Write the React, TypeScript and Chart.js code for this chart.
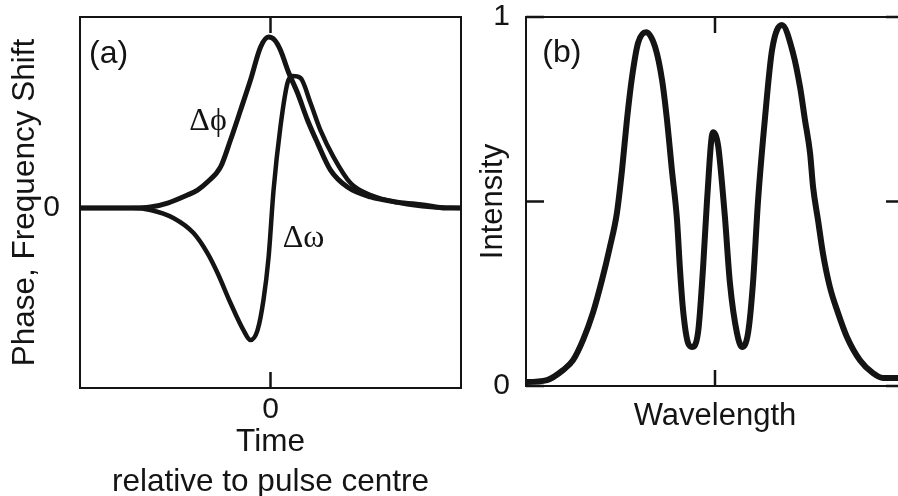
import React, { useEffect, useRef } from "react";
import { Chart, registerables } from "chart.js";

Chart.register(...registerables);

// ---- Panel (a): phase and frequency shift vs time ----
const phiTime = [-1, -0.735, -0.63, -0.54, -0.436, -0.383, -0.331, -0.262, -0.21, -0.157, -0.105, -0.052, -0.01, 0.021, 0.052, 0.094, 0.142, 0.194, 0.247, 0.315, 0.404, 0.525, 0.667, 0.803, 0.92, 1];
const phiShift = [0, 0, 0.005, 0.026, 0.068, 0.094, 0.136, 0.215, 0.356, 0.513, 0.67, 0.843, 0.895, 0.88, 0.827, 0.712, 0.602, 0.461, 0.34, 0.199, 0.11, 0.058, 0.031, 0.016, 0, 0];

const omegaTime = [-1, -0.72, -0.63, -0.51, -0.404, -0.331, -0.278, -0.21, -0.142, -0.105, -0.068, -0.037, -0.01, 0.016, 0.052, 0.089, 0.115, 0.157, 0.21, 0.262, 0.331, 0.42, 0.525, 0.682, 0.84, 1];
const omegaShift = [0, 0, -0.01, -0.052, -0.131, -0.236, -0.34, -0.497, -0.639, -0.691, -0.639, -0.482, -0.257, 0.094, 0.424, 0.654, 0.691, 0.681, 0.55, 0.408, 0.267, 0.131, 0.068, 0.026, 0.005, 0];

const timeTicks = [0];
const shiftTicks = [0];

// ---- Panel (b): spectrum ----
const wavelength = [-1, -0.995, -0.889, -0.804, -0.751, -0.698, -0.646, -0.598, -0.556, -0.519, -0.492, -0.466, -0.439, -0.407, -0.365, -0.317, -0.28, -0.254, -0.228, -0.201, -0.185, -0.169, -0.143, -0.122, -0.09, -0.063, -0.042, -0.011, 0.016, 0.037, 0.053, 0.079, 0.116, 0.143, 0.175, 0.201, 0.228, 0.265, 0.302, 0.354, 0.413, 0.45, 0.476, 0.503, 0.519, 0.545, 0.571, 0.608, 0.651, 0.698, 0.767, 0.836, 0.889, 0.968, 1];
const intensity = [0.011, 0.011, 0.016, 0.043, 0.07, 0.125, 0.198, 0.287, 0.377, 0.469, 0.585, 0.721, 0.837, 0.93, 0.959, 0.919, 0.829, 0.721, 0.585, 0.45, 0.314, 0.206, 0.117, 0.106, 0.144, 0.322, 0.504, 0.688, 0.653, 0.55, 0.455, 0.279, 0.144, 0.106, 0.144, 0.279, 0.504, 0.729, 0.911, 0.978, 0.902, 0.81, 0.721, 0.631, 0.539, 0.45, 0.36, 0.268, 0.198, 0.133, 0.07, 0.035, 0.022, 0.022, 0.022];

const wavelengthTicks = [0];
const intensityTicks = [0, 0.5, 1];
const intensityTickLabels = ["0", "", "1"];

const INK = "#141414";
const SANS = '"Liberation Sans", Arial, Helvetica, sans-serif';
const SERIF = '"Liberation Serif", "DejaVu Serif", "Times New Roman", serif';

type Note = { text: string; x: number; y: number; font: string };

function framePlugin(id: string, notes: Note[], xTickLen: number, yTickLen: number) {
  return {
    id,
    afterDraw(chart: any) {
      const { ctx, chartArea } = chart;
      const xs = chart.scales.x;
      const ys = chart.scales.y;
      ctx.save();
      ctx.strokeStyle = INK;
      ctx.lineWidth = 2;
      ctx.strokeRect(chartArea.left, chartArea.top, chartArea.right - chartArea.left, chartArea.bottom - chartArea.top);
      ctx.lineWidth = 2.5;
      ctx.beginPath();
      if (xTickLen > 0) {
        for (const t of xs.ticks) {
          const px = xs.getPixelForValue(t.value);
          ctx.moveTo(px, chartArea.top);
          ctx.lineTo(px, chartArea.top + xTickLen);
          ctx.moveTo(px, chartArea.bottom);
          ctx.lineTo(px, chartArea.bottom - xTickLen);
        }
      }
      if (yTickLen > 0) {
        for (const t of ys.ticks) {
          const py = ys.getPixelForValue(t.value);
          ctx.moveTo(chartArea.left, py);
          ctx.lineTo(chartArea.left + yTickLen, py);
          ctx.moveTo(chartArea.right, py);
          ctx.lineTo(chartArea.right - yTickLen, py);
        }
      }
      ctx.stroke();
      ctx.fillStyle = INK;
      ctx.textAlign = "center";
      ctx.textBaseline = "middle";
      for (const n of notes) {
        ctx.font = n.font;
        ctx.fillText(n.text, xs.getPixelForValue(n.x), ys.getPixelForValue(n.y));
      }
      ctx.restore();
    },
  };
}

function pts(xs: number[], ys: number[]) {
  return xs.map((x, i) => ({ x, y: ys[i] }));
}

export default function App() {
  const refA = useRef<HTMLCanvasElement | null>(null);
  const refB = useRef<HTMLCanvasElement | null>(null);

  useEffect(() => {
    const tickFont = { family: SANS, size: 30, lineHeight: 1.2 };
    const lineDefaults = {
      borderColor: INK,
      pointRadius: 0,
      fill: false,
      cubicInterpolationMode: "monotone" as const,
    };

    const chartA = new Chart(refA.current as HTMLCanvasElement, {
      type: "line",
      data: {
        datasets: [
          { ...lineDefaults, label: "Δϕ", data: pts(phiTime, phiShift), borderWidth: 5 },
          { ...lineDefaults, label: "Δω", data: pts(omegaTime, omegaShift), borderWidth: 4.5 },
        ],
      },
      options: {
        animation: false,
        responsive: false,
        devicePixelRatio: 1,
        layout: { padding: { left: 0, top: 17, right: 9, bottom: 0 } },
        plugins: { legend: { display: false }, tooltip: { enabled: false } },
        scales: {
          x: {
            type: "linear",
            min: -1,
            max: 1,
            afterBuildTicks: (s: any) => {
              s.ticks = timeTicks.map((v) => ({ value: v }));
            },
            afterFit: (s: any) => {
              s.height = 108;
              s.paddingLeft = 0;
              s.paddingRight = 0;
            },
            grid: { display: false },
            border: { display: false },
            ticks: { font: tickFont, color: INK, padding: -4, maxRotation: 0 },
            title: {
              display: true,
              text: ["Time", "relative to pulse centre"],
              color: INK,
              font: { family: SANS, size: 31.5, lineHeight: 1.286 },
              padding: { top: 0, bottom: -7 },
            },
          },
          y: {
            type: "linear",
            min: -0.942,
            max: 1,
            afterBuildTicks: (s: any) => {
              s.ticks = shiftTicks.map((v) => ({ value: v }));
            },
            afterFit: (s: any) => {
              s.width = 80;
              s.paddingTop = 0;
              s.paddingBottom = 0;
            },
            grid: { display: false },
            border: { display: false },
            ticks: { font: tickFont, color: INK, padding: 12 },
            title: {
              display: true,
              text: "Phase, Frequency Shift",
              color: INK,
              font: { family: SANS, size: 31.5, lineHeight: 1.2 },
              padding: { top: 6, bottom: 0 },
            },
          },
        },
      },
      plugins: [
        framePlugin(
          "frameA",
          [
            { text: "(a)", x: -0.85, y: 0.806, font: `32px ${SANS}` },
            { text: "Δϕ", x: -0.328, y: 0.45, font: `32px ${SERIF}` },
            { text: "Δω", x: 0.173, y: -0.162, font: `32px ${SERIF}` },
          ],
          16,
          0
        ),
      ],
    } as any);

    const chartB = new Chart(refB.current as HTMLCanvasElement, {
      type: "line",
      data: {
        datasets: [
          { ...lineDefaults, label: "Intensity", data: pts(wavelength, intensity), borderWidth: 6 },
        ],
      },
      options: {
        animation: false,
        responsive: false,
        devicePixelRatio: 1,
        layout: { padding: { left: 0, top: 17, right: 16, bottom: 0 } },
        plugins: { legend: { display: false }, tooltip: { enabled: false } },
        scales: {
          x: {
            type: "linear",
            min: -1,
            max: 1,
            afterBuildTicks: (s: any) => {
              s.ticks = wavelengthTicks.map((v) => ({ value: v }));
            },
            afterFit: (s: any) => {
              s.height = 110;
              s.paddingLeft = 0;
              s.paddingRight = 0;
            },
            grid: { display: false },
            border: { display: false },
            ticks: { display: false },
            title: {
              display: true,
              text: "Wavelength",
              color: INK,
              font: { family: SANS, size: 31, lineHeight: 1.2 },
              padding: { top: 0, bottom: 61.4 },
            },
          },
          y: {
            type: "linear",
            min: 0,
            max: 1,
            afterBuildTicks: (s: any) => {
              s.ticks = intensityTicks.map((v) => ({ value: v }));
            },
            afterFit: (s: any) => {
              s.width = 56;
              s.paddingTop = 0;
              s.paddingBottom = 0;
            },
            grid: { display: false },
            border: { display: false },
            ticks: {
              font: tickFont,
              color: INK,
              padding: 8,
              callback: (_v: any, i: number) => intensityTickLabels[i],
            },
            title: {
              display: true,
              text: "Intensity",
              color: INK,
              font: { family: SANS, size: 31, lineHeight: 1.2 },
              padding: { top: 4.4, bottom: 0 },
            },
          },
        },
      },
      plugins: [
        framePlugin("frameB", [{ text: "(b)", x: -0.81, y: 0.902, font: `32px ${SANS}` }], 16, 18),
      ],
    } as any);

    return () => {
      chartA.destroy();
      chartB.destroy();
    };
  }, []);

  return (
    <div
      style={{
        position: "fixed",
        left: 0,
        top: 0,
        width: 898,
        height: 496,
        overflow: "hidden",
        background: "#ffffff",
      }}
    >
      <canvas
        ref={refA}
        width={470}
        height={496}
        style={{ position: "absolute", left: 0, top: 0, width: 470, height: 496 }}
      />
      <canvas
        ref={refB}
        width={450}
        height={496}
        style={{ position: "absolute", left: 470, top: 0, width: 450, height: 496 }}
      />
    </div>
  );
}
